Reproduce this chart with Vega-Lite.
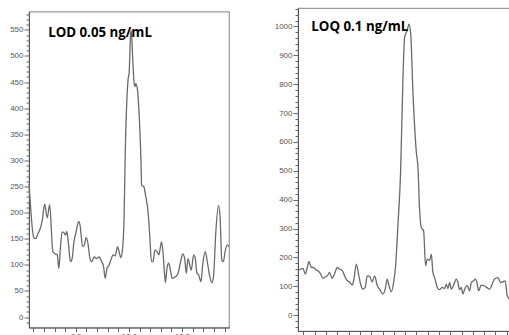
{
  "$schema": "https://vega.github.io/schema/vega-lite/v6.json",
  "padding": {"left": 9, "top": 7, "right": 0, "bottom": 0},
  "bounds": "flush",
  "center": true,
  "spacing": 69,
  "config": {
    "view": {"stroke": "#9a9a9a", "strokeWidth": 1.2},
    "axis": {"labelFont": "Liberation Sans", "labelFontSize": 8, "labelColor": "#555", "domainColor": "#555", "tickColor": "#666", "grid": false, "labelPadding": 1, "labelOverlap": false, "labelFlush": false}
  },
  "datasets": {
    "lod": [
      {"t":9.061,"v":255},{"t":9.104,"v":153},{"t":9.123,"v":150},{"t":9.145,"v":160},{"t":9.160,"v":166},{"t":9.185,"v":185},{"t":9.207,"v":216},{"t":9.232,"v":190},{"t":9.254,"v":215},{"t":9.285,"v":125},{"t":9.307,"v":121},{"t":9.326,"v":119},{"t":9.341,"v":93},{"t":9.354,"v":128},{"t":9.372,"v":163},{"t":9.394,"v":160},{"t":9.403,"v":157},{"t":9.416,"v":164},{"t":9.431,"v":141},{"t":9.450,"v":106},{"t":9.466,"v":112},{"t":9.481,"v":141},{"t":9.503,"v":163},{"t":9.528,"v":183},{"t":9.540,"v":176},{"t":9.565,"v":135},{"t":9.581,"v":138},{"t":9.597,"v":152},{"t":9.612,"v":144},{"t":9.634,"v":112},{"t":9.650,"v":106},{"t":9.674,"v":115},{"t":9.696,"v":112},{"t":9.721,"v":115},{"t":9.737,"v":109},{"t":9.762,"v":96},{"t":9.777,"v":74},{"t":9.793,"v":93},{"t":9.815,"v":100},{"t":9.830,"v":109},{"t":9.852,"v":119},{"t":9.871,"v":117},{"t":9.893,"v":135},{"t":9.908,"v":125},{"t":9.924,"v":114},{"t":9.939,"v":128},{"t":9.955,"v":192},{"t":9.964,"v":297},{"t":9.992,"v":454},{"t":10.002,"v":467},{"t":10.017,"v":544},{"t":10.023,"v":548},{"t":10.033,"v":508},{"t":10.048,"v":451},{"t":10.058,"v":441},{"t":10.064,"v":447},{"t":10.079,"v":438},{"t":10.095,"v":393},{"t":10.114,"v":297},{"t":10.120,"v":252},{"t":10.142,"v":249},{"t":10.157,"v":233},{"t":10.182,"v":198},{"t":10.195,"v":160},{"t":10.213,"v":106},{"t":10.226,"v":106},{"t":10.245,"v":128},{"t":10.266,"v":125},{"t":10.282,"v":119},{"t":10.307,"v":144},{"t":10.319,"v":128},{"t":10.335,"v":84},{"t":10.344,"v":66},{"t":10.360,"v":96},{"t":10.375,"v":103},{"t":10.391,"v":90},{"t":10.407,"v":74},{"t":10.438,"v":77},{"t":10.463,"v":84},{"t":10.484,"v":103},{"t":10.506,"v":121},{"t":10.525,"v":112},{"t":10.540,"v":84},{"t":10.556,"v":112},{"t":10.569,"v":103},{"t":10.587,"v":90},{"t":10.609,"v":119},{"t":10.625,"v":112},{"t":10.640,"v":84},{"t":10.656,"v":81},{"t":10.678,"v":68},{"t":10.696,"v":103},{"t":10.718,"v":125},{"t":10.740,"v":103},{"t":10.755,"v":84},{"t":10.780,"v":66},{"t":10.796,"v":77},{"t":10.818,"v":163},{"t":10.843,"v":214},{"t":10.858,"v":192},{"t":10.874,"v":109},{"t":10.889,"v":106},{"t":10.905,"v":125},{"t":10.927,"v":138},{"t":10.942,"v":135}
    ],
    "loq": [
      {"t":9.052,"v":154},{"t":9.075,"v":159},{"t":9.096,"v":162},{"t":9.117,"v":142},{"t":9.134,"v":165},{"t":9.149,"v":186},{"t":9.170,"v":165},{"t":9.190,"v":165},{"t":9.208,"v":157},{"t":9.229,"v":154},{"t":9.249,"v":145},{"t":9.273,"v":127},{"t":9.294,"v":133},{"t":9.311,"v":136},{"t":9.332,"v":148},{"t":9.353,"v":127},{"t":9.376,"v":144},{"t":9.400,"v":165},{"t":9.420,"v":159},{"t":9.441,"v":156},{"t":9.465,"v":136},{"t":9.488,"v":119},{"t":9.509,"v":115},{"t":9.532,"v":104},{"t":9.547,"v":125},{"t":9.568,"v":177},{"t":9.588,"v":142},{"t":9.606,"v":107},{"t":9.627,"v":90},{"t":9.647,"v":96},{"t":9.665,"v":136},{"t":9.686,"v":134},{"t":9.709,"v":115},{"t":9.730,"v":136},{"t":9.754,"v":102},{"t":9.777,"v":88},{"t":9.804,"v":73},{"t":9.824,"v":90},{"t":9.842,"v":125},{"t":9.857,"v":102},{"t":9.878,"v":81},{"t":9.898,"v":113},{"t":9.916,"v":171},{"t":9.937,"v":315},{"t":9.960,"v":494},{"t":9.981,"v":822},{"t":9.996,"v":962},{"t":10.019,"v":987},{"t":10.034,"v":1008},{"t":10.049,"v":979},{"t":10.069,"v":776},{"t":10.099,"v":566},{"t":10.114,"v":511},{"t":10.128,"v":367},{"t":10.143,"v":304},{"t":10.164,"v":292},{"t":10.181,"v":171},{"t":10.196,"v":194},{"t":10.217,"v":190},{"t":10.232,"v":211},{"t":10.246,"v":148},{"t":10.261,"v":130},{"t":10.285,"v":96},{"t":10.305,"v":88},{"t":10.329,"v":96},{"t":10.350,"v":92},{"t":10.364,"v":107},{"t":10.379,"v":92},{"t":10.394,"v":113},{"t":10.409,"v":90},{"t":10.432,"v":107},{"t":10.453,"v":125},{"t":10.468,"v":113},{"t":10.482,"v":88},{"t":10.497,"v":96},{"t":10.512,"v":73},{"t":10.527,"v":90},{"t":10.550,"v":102},{"t":10.571,"v":84},{"t":10.586,"v":113},{"t":10.606,"v":119},{"t":10.621,"v":125},{"t":10.636,"v":113},{"t":10.650,"v":84},{"t":10.674,"v":104},{"t":10.698,"v":102},{"t":10.721,"v":96},{"t":10.748,"v":90},{"t":10.771,"v":107},{"t":10.792,"v":125},{"t":10.822,"v":130},{"t":10.845,"v":113},{"t":10.866,"v":115},{"t":10.886,"v":119},{"t":10.904,"v":67},{"t":10.925,"v":55}
    ],
    "lodLabel": [{"t":9.24,"v":537,"label":"LOD 0.05 ng/mL"}],
    "loqLabel": [{"t":9.17,"v":985,"label":"LOQ 0.1 ng/mL"}]
  },
  "hconcat": [
    {
      "width": 200,
      "height": 316,
      "resolve": {"axis": {"y": "independent"}},
      "layer": [
        {
          "data": {"name": "lod"},
          "mark": {"type": "line", "color": "#6a6a6a", "strokeWidth": 1.3, "interpolate": "monotone"},
          "encoding": {
            "x": {"field": "t", "type": "quantitative", "scale": {"domain": [9.06, 10.942], "nice": false, "zero": false},
                  "axis": {"title": null, "orient": "bottom", "tickSize": 4, "values": [9.1,9.2,9.3,9.4,9.5,9.6,9.7,9.8,9.9,10.0,10.1,10.2,10.3,10.4,10.5,10.6,10.7,10.8,10.9], "labelExpr": "abs(datum.value*2 - round(datum.value*2)) < 0.001 ? format(datum.value, '.1f') : ''"}},
            "y": {"field": "v", "type": "quantitative", "scale": {"domain": [-20, 585], "nice": false, "zero": false},
                  "axis": {"title": null, "orient": "left", "tickSize": 5, "format": "d", "values": [0,50,100,150,200,250,300,350,400,450,500,550]}}
          }
        },
        {
          "data": {"name": "lodLabel"},
          "mark": {"type": "text", "align": "left", "baseline": "alphabetic", "font": "Open Sans", "fontWeight": "bold", "fontSize": 13.3, "color": "#000"},
          "encoding": {
            "text": {"field": "label"},
            "x": {"field": "t", "type": "quantitative", "scale": {"domain": [9.06, 10.942], "nice": false, "zero": false},
                  "axis": {"title": null, "orient": "bottom", "tickSize": 4, "values": [9.1,9.2,9.3,9.4,9.5,9.6,9.7,9.8,9.9,10.0,10.1,10.2,10.3,10.4,10.5,10.6,10.7,10.8,10.9], "labelExpr": "abs(datum.value*2 - round(datum.value*2)) < 0.001 ? format(datum.value, '.1f') : ''"}},
            "y": {"field": "v", "type": "quantitative", "scale": {"domain": [-20, 585], "nice": false, "zero": false},
                  "axis": {"title": null, "orient": "left", "tickSize": 3, "labels": false, "domain": false, "values": [-10,10,20,30,40,60,70,80,90,110,120,130,140,160,170,180,190,210,220,230,240,260,270,280,290,310,320,330,340,360,370,380,390,410,420,430,440,460,470,480,490,510,520,530,540,560,570,580]}}
          }
        }
      ]
    },
    {
      "width": 215,
      "height": 323,
      "resolve": {"axis": {"y": "independent"}},
      "layer": [
        {
          "data": {"name": "loq"},
          "mark": {"type": "line", "color": "#6a6a6a", "strokeWidth": 1.3, "interpolate": "monotone"},
          "encoding": {
            "x": {"field": "t", "type": "quantitative", "scale": {"domain": [9.052, 10.955], "nice": false, "zero": false},
                  "axis": {"title": null, "orient": "bottom", "tickSize": 4, "values": [9.1,9.2,9.3,9.4,9.5,9.6,9.7,9.8,9.9,10.0,10.1,10.2,10.3,10.4,10.5,10.6,10.7,10.8,10.9], "labelExpr": "abs(datum.value*2 - round(datum.value*2)) < 0.001 ? format(datum.value, '.1f') : ''"}},
            "y": {"field": "v", "type": "quantitative", "scale": {"domain": [-55, 1064], "nice": false, "zero": false},
                  "axis": {"title": null, "orient": "left", "tickSize": 5, "format": "d", "values": [0,100,200,300,400,500,600,700,800,900,1000]}}
          }
        },
        {
          "data": {"name": "loqLabel"},
          "mark": {"type": "text", "align": "left", "baseline": "alphabetic", "font": "Open Sans", "fontWeight": "bold", "fontSize": 13.3, "color": "#000"},
          "encoding": {
            "text": {"field": "label"},
            "x": {"field": "t", "type": "quantitative", "scale": {"domain": [9.052, 10.955], "nice": false, "zero": false},
                  "axis": {"title": null, "orient": "bottom", "tickSize": 4, "values": [9.1,9.2,9.3,9.4,9.5,9.6,9.7,9.8,9.9,10.0,10.1,10.2,10.3,10.4,10.5,10.6,10.7,10.8,10.9], "labelExpr": "abs(datum.value*2 - round(datum.value*2)) < 0.001 ? format(datum.value, '.1f') : ''"}},
            "y": {"field": "v", "type": "quantitative", "scale": {"domain": [-55, 1064], "nice": false, "zero": false},
                  "axis": {"title": null, "orient": "left", "tickSize": 3, "labels": false, "domain": false, "values": [-40,-20,20,40,60,80,120,140,160,180,220,240,260,280,320,340,360,380,420,440,460,480,520,540,560,580,620,640,660,680,720,740,760,780,820,840,860,880,920,940,960,980,1020,1040,1060]}}
          }
        }
      ]
    }
  ]
}
